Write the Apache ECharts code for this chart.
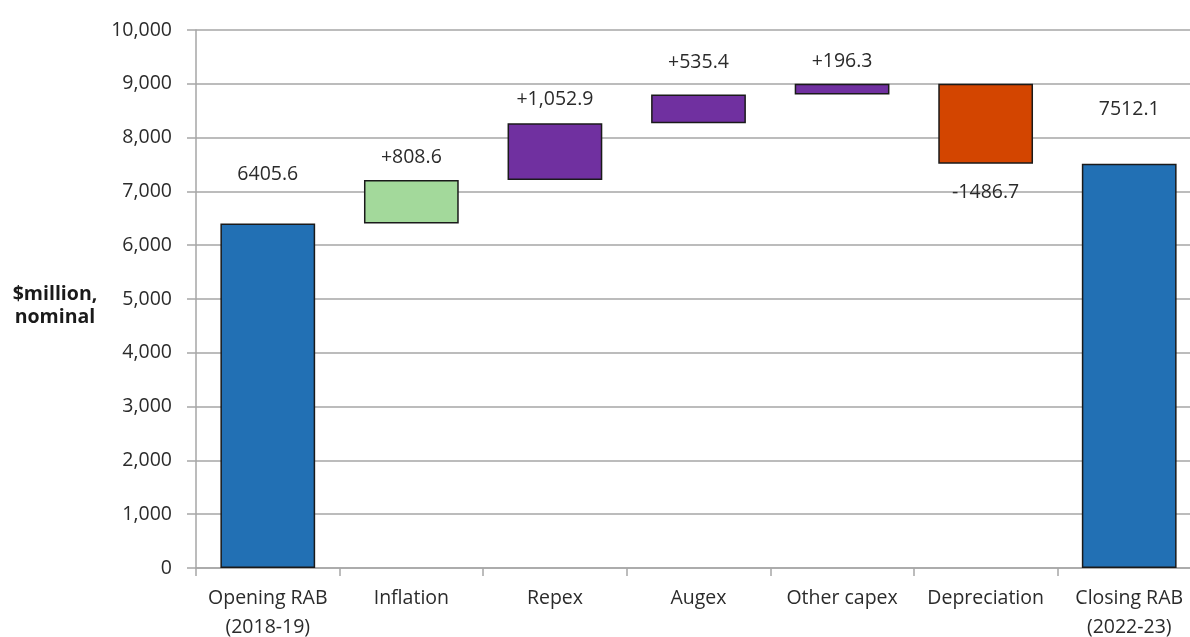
<!DOCTYPE html>
<html>
<head>
<meta charset="utf-8">
<script src="https://cdn.jsdelivr.net/npm/echarts@6/dist/echarts.min.js"></script>
<style>
  html, body { margin: 0; padding: 0; background: #fff; overflow: hidden; }
  #chart { width: 1201px; height: 637px; }
</style>
</head>
<body>
<div id="chart"></div>
<script>
// RAB roll-forward, $million nominal
const categories = ['Opening RAB\n(2018-19)', 'Inflation', 'Repex', 'Augex', 'Other capex', 'Depreciation', 'Closing RAB\n(2022-23)'];
// signed movements; first and last are the opening and closing balances
const movements = [6405.6, 808.6, 1052.9, 535.4, 196.3, -1486.7, 7512.1];
const labelText = ['6405.6', '+808.6', '+1,052.9', '+535.4', '+196.3', '-1486.7', '7512.1'];
const yTicks = [0, 10000, 1000]; // min, max, step

const FONT = '"Open Sans", sans-serif';
const FS = 19.5;
const colors = ['#2270b4', '#a3d99b', '#7030a0', '#7030a0', '#7030a0', '#d34500', '#2270b4'];
const labelPlace = [
  { position: 'top', distance: 39 },
  { position: 'top', distance: 12 },
  { position: 'top', distance: 14 },
  { position: 'top', distance: 22 },
  { position: 'top', distance: 12 },
  { position: 'bottom', distance: 19 },
  { position: 'top', distance: 44 }
];

// floating base for each step of the waterfall
const base = [];
const height = [];
let running = 0;
movements.forEach((m, i) => {
  if (i === 0 || i === movements.length - 1) {
    base.push(0);
    height.push(m);
    running = m;
  } else if (m >= 0) {
    base.push(running);
    height.push(m);
    running += m;
  } else {
    running += m;
    base.push(running);
    height.push(-m);
  }
});

const chart = echarts.init(document.getElementById('chart'));
chart.setOption({
  animation: false,
  backgroundColor: '#fff',
  grid: { left: 196, right: 0, top: 30, bottom: 69, containLabel: false, outerBoundsMode: 'none' },
  xAxis: {
    type: 'category',
    data: categories,
    axisLine: { lineStyle: { color: '#a6a6a6', width: 1.5 } },
    axisTick: { show: true, length: 8, lineStyle: { color: '#a6a6a6', width: 1.5 } },
    axisLabel: { color: '#2b2b2b', fontFamily: FONT, fontSize: FS, lineHeight: 29, margin: 16, interval: 0 }
  },
  yAxis: {
    type: 'value',
    min: yTicks[0], max: yTicks[1], interval: yTicks[2],
    axisLine: { show: true, lineStyle: { color: '#a6a6a6', width: 1.5 } },
    axisTick: { show: true, length: 9, lineStyle: { color: '#a6a6a6', width: 1.5 } },
    axisLabel: { color: '#2b2b2b', fontFamily: FONT, fontSize: FS, margin: 24 },
    splitLine: { lineStyle: { color: '#a6a6a6', width: 1.5 } }
  },
  graphic: [{
    type: 'text',
    x: 55, y: 283,
    style: {
      text: '$million,\nnominal',
      font: 'bold ' + FS + 'px ' + FONT,
      fill: '#1a1a1a',
      align: 'center',
      lineHeight: 23
    }
  }],
  series: [
    {
      type: 'bar',
      stack: 'wf',
      data: base,
      itemStyle: { color: 'transparent' },
      silent: true,
      barCategoryGap: '34%'
    },
    {
      type: 'bar',
      stack: 'wf',
      barCategoryGap: '34%',
      data: height.map((v, i) => ({
        value: v,
        itemStyle: { color: colors[i], borderColor: '#1a1a1a', borderWidth: 1.5 },
        label: {
          show: true,
          position: labelPlace[i].position,
          distance: labelPlace[i].distance,
          formatter: labelText[i],
          color: '#2b2b2b',
          fontFamily: FONT,
          fontSize: FS
        }
      }))
    }
  ]
});
</script>
</body>
</html>
